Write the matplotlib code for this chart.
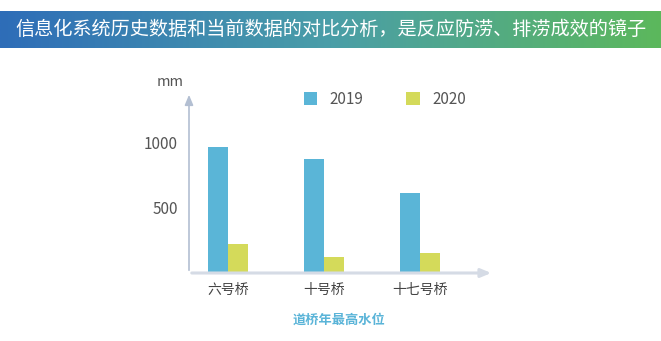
import numpy as np
import matplotlib
matplotlib.use('Agg')
import matplotlib.pyplot as plt
from matplotlib.colors import LinearSegmentedColormap

plt.rcParams['font.family'] = ['Noto Sans CJK SC', 'DejaVu Sans']

# data
bridges = ['六号桥', '十号桥', '十七号桥']
years = ['2019', '2020']
level_2019 = [962, 870, 611]
level_2020 = [221, 122, 155]
yticks = [500, 1000]

title = '信息化系统历史数据和当前数据的对比分析，是反应防涝、排涝成效的镜子'
c2019 = '#5ab5d7'
c2020 = '#d4da5a'

W, H = 661, 341
fig = plt.figure(figsize=(W / 100, H / 100), dpi=100)

# title banner with blue->green gradient
bax = fig.add_axes([0, 1 - 48 / H, 1, 37 / H])
cmap = LinearSegmentedColormap.from_list('bn', ['#2e6db8', '#4a9ea8', '#5cb85c'])
bax.imshow(np.linspace(0, 1, 256)[None, :], aspect='auto', cmap=cmap, extent=[0, 1, 0, 1])
bax.set_axis_off()
bax.text(0.5, 0.5, title, color='white', fontsize=13.8, ha='center', va='center',
         transform=bax.transAxes)

# main chart
ax = fig.add_axes([189 / W, 1 - 273 / H, (494 - 189) / W, (273 - 92) / H])
x = np.arange(len(bridges))
bw = 0.21
ax.bar(x - bw / 2, level_2019, bw, color=c2019, label=years[0])
ax.bar(x + bw / 2, level_2020, bw, color=c2020, label=years[1])
ax.set_xlim(-0.41, 2.77)
ax.set_ylim(0, 1382)

for s in ax.spines.values():
    s.set_visible(False)
ax.set_xticks(x)
ax.set_xticklabels(bridges, fontsize=10, color='#444444')
ax.set_yticks(yticks)
ax.set_yticklabels([str(v) for v in yticks], fontsize=11, color='#555555')
ax.tick_params(length=0)
ax.tick_params(axis='x', pad=7)
ax.tick_params(axis='y', pad=8)

# axes with arrows
ax.annotate('', xy=(0, 1.0), xytext=(0, 0), xycoords='axes fraction',
            arrowprops=dict(arrowstyle='-|>,head_length=0.6,head_width=0.25',
                            color='#b3bfd2', lw=1.2))
ax.annotate('', xy=(1.0, 0), xytext=(0, 0), xycoords='axes fraction',
            arrowprops=dict(arrowstyle='-|>,head_length=0.6,head_width=0.25',
                            color='#d5dbe5', lw=2.2))

fig.text(170 / W, 1 - 82 / H, 'mm', fontsize=10.5, color='#555555', ha='center', va='center')

fig.legend(*ax.get_legend_handles_labels(), loc='center left',
           bbox_to_anchor=(296 / W, 1 - 99 / H), ncol=2, frameon=False,
           fontsize=11, handlelength=0.9, handleheight=0.9, columnspacing=2.8,
           handletextpad=0.8, borderpad=0, labelcolor='#555555')

fig.text(339 / W, 1 - 320 / H, '道桥年最高水位', fontsize=9.5, color='#5ab4d8',
         fontweight='bold', ha='center', va='center')

fig.savefig('out.png', dpi=100)
